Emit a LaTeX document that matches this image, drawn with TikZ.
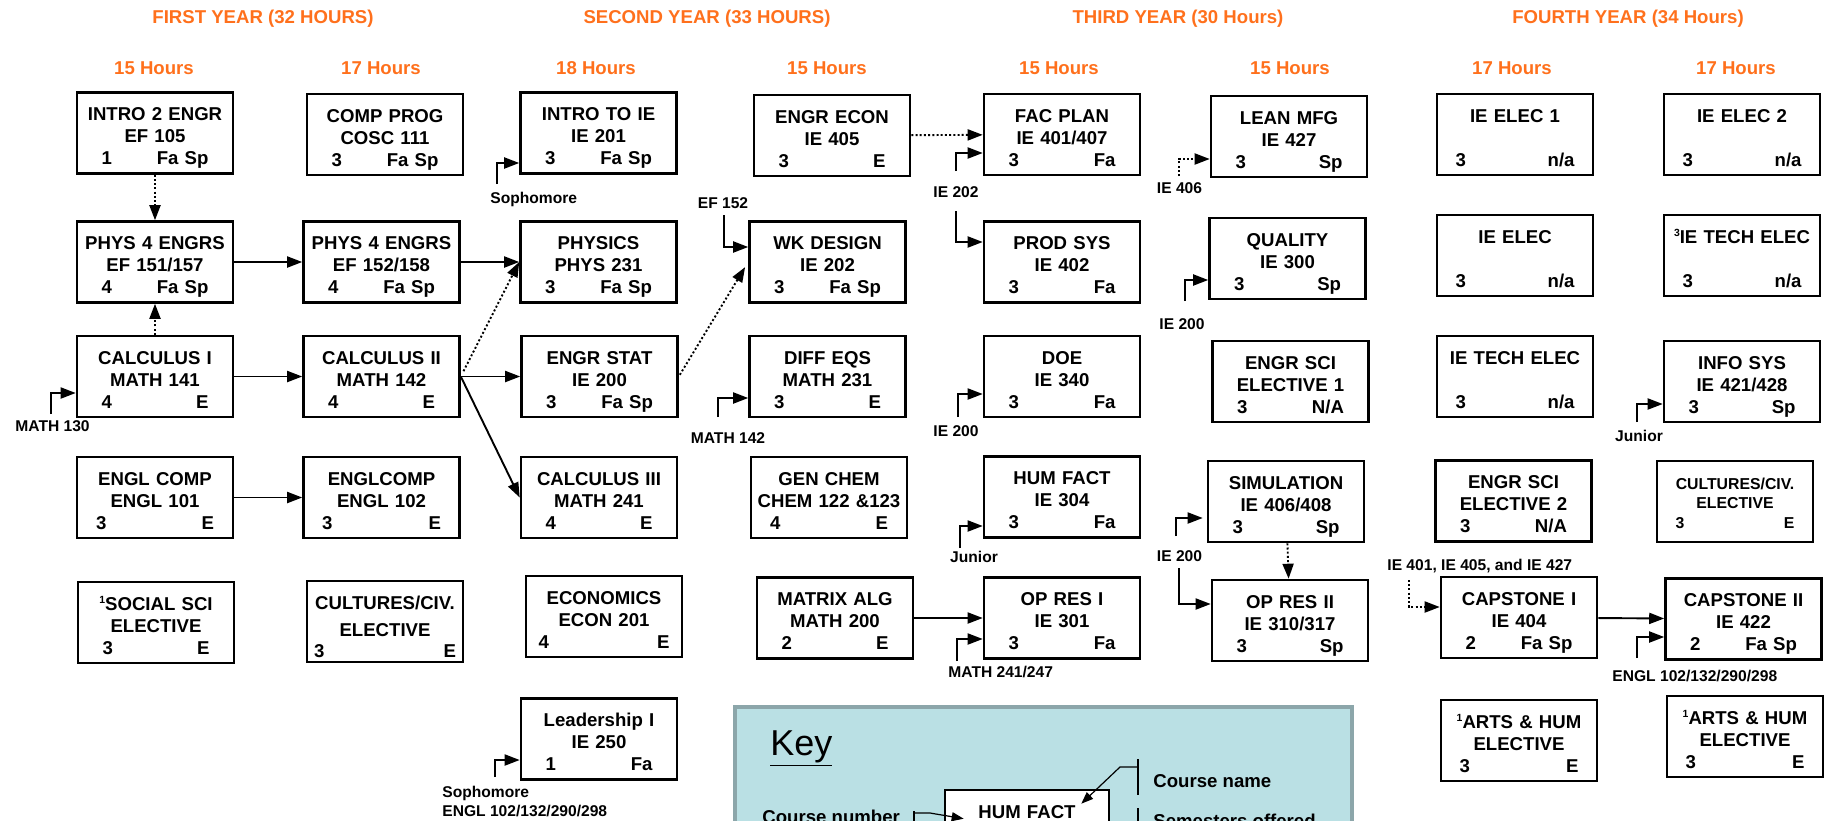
\documentclass[tikz,border=0pt]{standalone}
\usepackage{fontspec}
\setmainfont{Liberation Sans}
\usetikzlibrary{arrows.meta,calc}
\definecolor{hdorange}{RGB}{255,112,28}
\definecolor{keyfill}{RGB}{186,224,228}
\definecolor{keyedge}{RGB}{140,166,170}
\newcommand{\crsfont}{\fontsize{9.3}{11}\selectfont\bfseries}
\newcommand{\smallcrs}{\fontsize{7.9}{9.8}\selectfont\bfseries}
\newcommand{\prefont}{\fontsize{7.8}{9}\selectfont\bfseries}
\newcommand{\supnum}[1]{\raisebox{3.2pt}{\fontsize{5.2}{6}\selectfont #1}}
% title, number, hours, semesters (optional: width of the bottom row)
\newcommand{\crs}[5][53.5pt]{#2\\#3\\\makebox[#1]{#4\hfill #5}}

\begin{document}
\begin{tikzpicture}[x=0.5pt, y=-0.5pt,
    course/.style={draw, line width=1.3pt, fill=white, minimum width=78pt, minimum height=40.5pt,
        inner sep=0pt, text width=75pt, align=center, text height=7pt, text depth=19.5pt, font=\crsfont},
    yearhead/.style={text=hdorange, font=\crsfont, anchor=base, inner sep=0pt},
    pre/.style={font=\prefont, anchor=base west, inner sep=0pt},
    arrow/.style={-{Triangle[length=7.5pt,width=5.5pt]}, line width=0.95pt},
    dotarrow/.style={arrow, dash pattern=on 1pt off 1.1pt},
    thin/.style={line width=0.6pt}
]
\useasboundingbox (0,0) rectangle (1830,820);
\clip (0,0) rectangle (1830,820);

% headings
\node[yearhead] (y1) at (263,23) {FIRST YEAR (32 HOURS)};
\node[yearhead] (y2) at (707,23) {SECOND YEAR (33 HOURS)};
\node[yearhead] (y3) at (1178,23) {THIRD YEAR (30 Hours)};
\node[yearhead] (y4) at (1628,23) {FOURTH YEAR (34 Hours)};
\foreach \x/\h [count=\i] in {154/15,381/17,596/18,827/15,1059/15,1290/15,1512/17,1736/17}
    \node[yearhead] (s\i) at (\x,74) {\h\ Hours};

% first year
\node[course] (intro) at (155,133) {\crs{INTRO 2 ENGR}{EF 105}{1}{Fa Sp}};
\node[course] (phys1) at (155,262) {\crs{PHYS 4 ENGRS}{EF 151/157}{4}{Fa Sp}};
\node[course] (calc1) at (155,376.5) {\crs{CALCULUS I}{MATH 141}{4}{E}};
\node[course] (engl1) at (155,497.5) {\crs[59pt]{ENGL COMP}{ENGL 101}{3}{E}};
\node[course] (soc) at (156,622.5) {\crs{\supnum{1}SOCIAL SCI}{ELECTIVE}{3}{E}};

\node[course] (comp) at (385,134.5) {\crs{COMP PROG}{COSC 111}{3}{Fa Sp}};
\node[course] (phys2) at (381.5,262) {\crs{PHYS 4 ENGRS}{EF 152/158}{4}{Fa Sp}};
\node[course] (calc2) at (381.5,376.5) {\crs{CALCULUS II}{MATH 142}{4}{E}};
\node[course] (engl2) at (381.5,497.5) {\crs[59.5pt]{ENGLCOMP}{ENGL 102}{3}{E}};
\node[course] (cult1) at (385,621.5) {CULTURES/CIV.\\[2.5pt]ELECTIVE\\[-0.5pt]\makebox[71pt]{3\hfill E}};

% second year
\node[course] (introie) at (598.5,133) {\crs{INTRO TO IE}{IE 201}{3}{Fa Sp}};
\node[course] (physics) at (598.5,262) {\crs{PHYSICS}{PHYS 231}{3}{Fa Sp}};
\node[course] (stat) at (599.5,376.5) {\crs{ENGR STAT}{IE 200}{3}{Fa Sp}};
\node[course] (calc3) at (599,497.5) {\crs{CALCULUS III}{MATH 241}{4}{E}};
\node[course] (econ) at (604,616.5) {\crs[65.5pt]{ECONOMICS}{ECON 201}{4}{E}};
\node[course] (lead) at (599,739) {\crs{Leadership I}{IE 250}{1}{Fa}};

\node[course] (engecon) at (832,135.5) {\crs{ENGR ECON}{IE 405}{3}{E}};
\node[course] (wk) at (827.5,262) {\crs{WK DESIGN}{IE 202}{3}{Fa Sp}};
\node[course] (diffeq) at (827.5,376.5) {\crs{DIFF EQS}{MATH 231}{3}{E}};
\node[course] (chem) at (829,497.5) {\crs[59pt]{GEN CHEM}{CHEM 122 \&123}{4}{E}};
\node[course] (matrix) at (835,618) {\crs{MATRIX ALG}{MATH 200}{2}{E}};

% third year
\node[course] (facplan) at (1062,134.5) {\crs{FAC PLAN}{IE 401/407}{3}{Fa}};
\node[course] (prodsys) at (1062,262) {\crs{PROD SYS}{IE 402}{3}{Fa}};
\node[course] (doe) at (1062,376.5) {\crs{DOE}{IE 340}{3}{Fa}};
\node[course] (humfact) at (1062,497) {\crs{HUM FACT}{IE 304}{3}{Fa}};
\node[course] (opres1) at (1062,618) {\crs{OP RES I}{IE 301}{3}{Fa}};

\node[course] (lean) at (1289,136.5) {\crs{LEAN MFG}{IE 427}{3}{Sp}};
\node[course] (quality) at (1287.5,258.5) {\crs{QUALITY}{IE 300}{3}{Sp}};
\node[course] (esci1) at (1290.5,381.5) {\crs{ENGR SCI}{ELECTIVE 1}{3}{N/A}};
\node[course] (sim) at (1286,501.5) {\crs{SIMULATION}{IE 406/408}{3}{Sp}};
\node[course] (opres2) at (1290,620.5) {\crs{OP RES II}{IE 310/317}{3}{Sp}};

% fourth year
\node[course] (elec1) at (1515,134.5) {\crs[59.5pt]{IE ELEC 1}{\mbox{}}{3}{n/a}};
\node[course] (elec) at (1515,255.5) {\crs[59.5pt]{IE ELEC}{\mbox{}}{3}{n/a}};
\node[course] (tech) at (1515,376.5) {\crs[59.5pt]{IE TECH ELEC}{\mbox{}}{3}{n/a}};
\node[course] (esci2) at (1513.5,501) {\crs{ENGR SCI}{ELECTIVE 2}{3}{N/A}};
\node[course] (cap1) at (1519,617.5) {\crs{CAPSTONE I}{IE 404}{2}{Fa Sp}};
\node[course] (arts1) at (1519,740.5) {\crs[59.5pt]{\supnum{1}ARTS \& HUM}{ELECTIVE}{3}{E}};

\node[course] (elec2) at (1742,134.5) {\crs[59.5pt]{IE ELEC 2}{\mbox{}}{3}{n/a}};
\node[course] (tech3) at (1742,255.5) {\crs[59.5pt]{\supnum{3}IE TECH ELEC}{\mbox{}}{3}{n/a}};
\node[course] (info) at (1742,381.5) {\crs{INFO SYS}{IE 421/428}{3}{Sp}};
\node[course, font=\smallcrs] (cult4) at (1735,501.5) {CULTURES/CIV.\\ELECTIVE\\\makebox[59.5pt]{3\hfill E}};
\node[course] (cap2) at (1743.5,619) {\crs{CAPSTONE II}{IE 422}{2}{Fa Sp}};
\node[course] (arts2) at (1745,736.5) {\crs[59.5pt]{\supnum{1}ARTS \& HUM}{ELECTIVE}{3}{E}};

% links between courses
\draw[dotarrow] (intro) -- (phys1);
\draw[dotarrow] (calc1) -- (phys1);
\draw[arrow] (phys1) -- (phys2);
\draw[arrow] (calc1) -- (calc2);
\draw[arrow] (engl1) -- (engl2);
\draw[arrow] (phys2) -- (physics);
\draw[arrow] (calc2) -- (stat);
\draw[arrow] (calc2.east) -- (calc3.west);
\draw[dotarrow, shorten <=3pt] (calc2.east) -- (physics.west);
\draw[dotarrow, shorten <=1pt, shorten >=3pt] (stat.east) -- (wk.west);
\draw[dotarrow] (engecon) -- (facplan);
\draw[dotarrow] (sim) -- (opres2);
\draw[arrow] (matrix) -- (opres1);
\draw[arrow] (cap1) -- (cap2);

% prerequisites
\node[pre] (m130) at (15,431) {MATH 130};
\coordinate (m130c) at (51,414);
\draw[arrow] (m130c) |- ($(calc1.west)+(0,16.5)$);

\node[pre] (soph1) at (490,203) {Sophomore};
\coordinate (soph1c) at (497,184);
\draw[arrow] (soph1c) |- ($(introie.west)+(0,30)$);

\node[pre] (soph2) at (442,797) {Sophomore};
\node[pre] (engl3) at (442,816) {ENGL 102/132/290/298};
\coordinate (soph2c) at (495,777);
\draw[arrow] (soph2c) |- ($(lead.west)+(0,21)$);

\node[pre, anchor=base] (ef152) at (723,208) {EF 152};
\coordinate (ef152c) at (724,215);
\draw[arrow] (ef152c) |- ($(wk.west)+(0,-15)$);

\node[pre, anchor=base] (m142) at (728,443) {MATH 142};
\coordinate (m142c) at (718,417);
\draw[arrow] (m142c) |- ($(diffeq.west)+(0,21.5)$);

\node[pre, anchor=base] (ie202) at (956,197) {IE 202};
\coordinate (ie202a) at (956,171);
\coordinate (ie202b) at (956,211);
\draw[arrow] (ie202a) |- ($(facplan.west)+(0,18.5)$);
\draw[arrow] (ie202b) |- ($(prodsys.west)+(0,-20)$);

\node[pre, anchor=base] (ie200a) at (956,436) {IE 200};
\coordinate (ie200ac) at (958,417);
\draw[arrow] (ie200ac) |- ($(doe.west)+(0,17.5)$);

\node[pre, anchor=base] (jun1) at (974,562) {Junior};
\coordinate (jun1c) at (960,548);
\draw[arrow] (jun1c) |- ($(humfact.west)+(0,29)$);

\node[pre] (m241) at (948,677) {MATH 241/247};
\coordinate (m241c) at (957,661);
\draw[arrow] (m241c) |- ($(opres1.west)+(0,21)$);

\node[pre, anchor=base] (ie406) at (1179.5,193) {IE 406};
\coordinate (ie406c) at (1179,176);
\draw[dotarrow] (ie406c) |- ($(lean.west)+(0,22.5)$);

\node[pre, anchor=base] (ie200b) at (1182,329) {IE 200};
\coordinate (ie200bc) at (1185,301);
\draw[arrow] (ie200bc) |- ($(quality.west)+(0,21.5)$);

\node[pre, anchor=base] (ie200c) at (1179.5,561) {IE 200};
\coordinate (ie200ca) at (1176,536);
\coordinate (ie200cb) at (1179,568);
\draw[arrow] (ie200ca) |- ($(sim.west)+(-4,16.5)$);
\draw[arrow] (ie200cb) |- ($(opres2.west)+(0,-16.5)$);

\node[pre] (ie401) at (1387,570) {IE 401, IE 405, and IE 427};
\coordinate (ie401c) at (1409,580);
\draw[dotarrow] (ie401c) |- ($(cap1.west)+(0,-10.5)$);

\node[pre, anchor=base] (jun2) at (1639,441) {Junior};
\coordinate (jun2c) at (1637,422);
\draw[arrow] (jun2c) |- ($(info.west)+(0,22.5)$);

\node[pre] (engl4) at (1612,681) {ENGL 102/132/290/298};
\coordinate (engl4c) at (1637,658);
\draw[arrow] (engl4c) |- ($(cap2.west)+(0,18)$);

% key
\draw[line width=2pt, draw=keyedge, fill=keyfill] (735,707) rectangle (1352,880);
\node[anchor=base west, inner sep=0pt, font=\fontsize{18}{20}\selectfont] (keyt) at (770,755) {\underline{Key}};
\node[course, minimum width=82pt, text width=79pt] (sample) at (1027,830.5) {HUM FACT};
\node[pre, font=\crsfont] (cname) at (1153,787) {Course name};
\node[pre, font=\crsfont] (cnum) at (762,823) {Course number};
\node[pre, font=\crsfont] (csem) at (1153,827) {Semesters offered};
\coordinate (cnb1) at (1138,759);
\coordinate (cnb2) at (1138,795);
\coordinate (cnj) at (1138,767);
\coordinate (csb) at (1138,808);
\coordinate (cmb) at (914,811);
\coordinate (cmj) at (914,813);
\draw[thin] (cnb1) -- (cnb2);
\draw[thin] (csb) -- ++(0,60);
\draw[thin] (cmb) -- ++(0,60);
\draw[thin, -{Triangle[length=6pt,width=4.5pt]}] (cnj) -- ++(-18,0) -- ($(sample.north east)+(-29,15)$);
\draw[thin, -{Triangle[length=6pt,width=4.5pt]}] (cmj) -- ++(16,0) -- ($(sample.north west)+(20,30)$);
\end{tikzpicture}
\end{document}
